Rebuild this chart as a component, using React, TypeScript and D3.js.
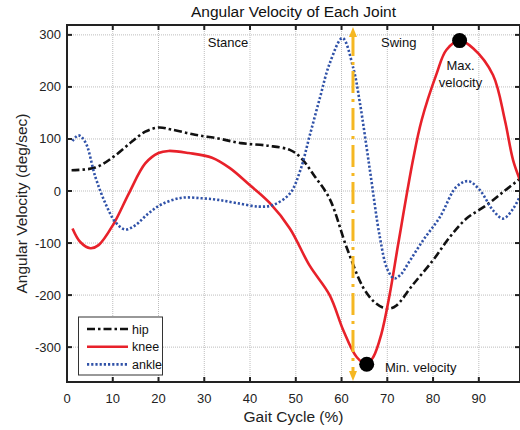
import React from 'react'
import * as d3 from 'd3'

type Pt = [number, number]

// gait cycle (%) vs angular velocity (deg/sec)
const hip: Pt[] = [
  [1, 40], [6.2, 45], [10.2, 66], [14.2, 95], [17.1, 114], [20, 122], [22.9, 118],
  [28, 108], [33, 101], [38, 92], [44, 87], [48.7, 79], [51, 65], [54, 30],
  [57.4, -15], [61.1, -108], [64.7, -185], [67, -212], [69, -224], [70.5, -226],
  [72, -220], [75.6, -180], [80, -133], [83.7, -88], [87.3, -53], [91.7, -27],
  [95.3, -2], [98.6, 21], [99.5, 28],
]
const knee: Pt[] = [
  [1.2, -72], [2.9, -98], [5.1, -110], [6.9, -104], [10.2, -63], [13.5, -5],
  [17.1, 53], [20, 73], [22.2, 77], [26.6, 73], [31.7, 64], [35.6, 44], [40, 11],
  [44.3, -23], [48.7, -72], [53, -143], [57.4, -200], [60.4, -268], [63.3, -319],
  [65.5, -333], [67, -318], [68.7, -275], [70.5, -200], [72.4, -101], [75.6, 59],
  [77.5, 136], [80.8, 226], [82.9, 271], [85.8, 289], [88.8, 274], [93.1, 223],
  [95.7, 136], [97.5, 59], [99.5, 10],
]
const ankle: Pt[] = [
  [1.2, 96], [2.5, 107], [4, 94], [6.2, 27], [8.4, -24], [10.6, -60], [12.7, -74],
  [14.9, -66], [17.8, -43], [20.8, -25], [25.1, -13], [29.5, -14], [33, -17],
  [37, -23], [42, -30], [45, -27], [48.7, -5], [51, 40], [53, 105], [55.3, 180],
  [57.4, 245], [60.2, 294], [62.6, 235], [64, 170], [66.2, 40], [68.4, -90],
  [70, -150], [71.5, -168], [73, -160], [74.5, -140], [77.8, -95], [81.5, -50],
  [85.1, 8], [87.7, 19], [90.2, 2], [93.1, -37], [95.3, -53], [97.5, -34], [99.5, 0],
]

const xTicks = [0, 10, 20, 30, 40, 50, 60, 70, 80, 90]
const yTicks = [-300, -200, -100, 0, 100, 200, 300]
const extremes: Pt[] = [[85.8, 289], [65.5, -333]]
const phaseSplit = [62.5]
const notes = [
  { x: 35.2, y: 277, text: 'Stance', anchor: 'middle' },
  { x: 72.5, y: 277, text: 'Swing', anchor: 'middle' },
  { x: 86, y: 232, text: 'Max.', anchor: 'middle' },
  { x: 86, y: 199, text: 'velocity', anchor: 'middle' },
  { x: 69.5, y: -347, text: 'Min. velocity', anchor: 'start' },
]
const legendItems = ['hip', 'knee', 'ankle']

const W = 520
const H = 430
const font = '"Liberation Sans", Arial, sans-serif'
const ORANGE = '#F5B722'

const styles: Record<string, { stroke: string; dash: string }> = {
  hip: { stroke: '#111111', dash: '8 3 2.5 3' },
  knee: { stroke: '#E8212A', dash: 'none' },
  ankle: { stroke: '#3052A8', dash: '2.2 2' },
}

export default function App() {
  const x = d3.scaleLinear().domain([0, 99]).range([67, 520])
  const y = d3.scaleLinear().domain([-367, 319]).range([382, 25])
  const [x0, x1] = x.range()
  const [y0, y1] = y.range()

  const line = d3
    .line<Pt>()
    .x(d => x(d[0]))
    .y(d => y(d[1]))
    .curve(d3.curveCatmullRom.alpha(0.5))

  const series: [string, Pt[]][] = [
    ['hip', hip],
    ['knee', knee],
    ['ankle', ankle],
  ]

  const tickLen = 5

  return (
    <svg
      width={W}
      height={H}
      style={{ position: 'absolute', left: 0, top: 0, background: '#fff' }}
      fontFamily={font}
    >
      <defs>
        <clipPath id="plot">
          <rect x={x0} y={y1} width={x1 - x0} height={y0 - y1} />
        </clipPath>
      </defs>

      {/* grid */}
      <g stroke="#bdbdbd" strokeWidth={1} strokeDasharray="1 1">
        {xTicks.filter(t => t > 0).map(t => (
          <line key={'gx' + t} x1={x(t)} x2={x(t)} y1={y1} y2={y0} />
        ))}
        {yTicks.map(t => (
          <line key={'gy' + t} x1={x0} x2={x1} y1={y(t)} y2={y(t)} />
        ))}
      </g>

      {/* curves */}
      <g clipPath="url(#plot)" fill="none" strokeWidth={2.6}>
        {series.map(([name, pts]) => (
          <path
            key={name}
            d={line(pts) || ''}
            stroke={styles[name].stroke}
            strokeDasharray={styles[name].dash}
          />
        ))}
      </g>

      {/* stance / swing divider */}
      {phaseSplit.map(p => (
        <g key={'split' + p} stroke={ORANGE} fill={ORANGE}>
          <line
            x1={x(p)}
            x2={x(p)}
            y1={y1 + 9}
            y2={y0 - 9}
            strokeWidth={3}
            strokeDasharray="22 6 3 6"
          />
          <path
            d={`M${x(p)},${y1 + 2} L${x(p) - 4},${y1 + 12} L${x(p) + 4},${y1 + 12} Z`}
            stroke="none"
          />
          <path
            d={`M${x(p)},${y0 - 1} L${x(p) - 4},${y0 - 11} L${x(p) + 4},${y0 - 11} Z`}
            stroke="none"
          />
        </g>
      ))}

      {/* max / min markers */}
      {extremes.map((d, i) => (
        <circle key={'ex' + i} cx={x(d[0])} cy={y(d[1])} r={7.5} fill="#000" />
      ))}

      {/* annotations */}
      {notes.map((n, i) => (
        <text
          key={'n' + i}
          x={x(n.x)}
          y={y(n.y)}
          fontSize={13}
          textAnchor={n.anchor as any}
          fill="#111"
        >
          {n.text}
        </text>
      ))}

      {/* axes box */}
      <rect
        x={x0}
        y={y1}
        width={x1 - x0}
        height={y0 - y1}
        fill="none"
        stroke="#222"
        strokeWidth={2}
      />
      <g stroke="#222" strokeWidth={2}>
        {xTicks.map(t => (
          <g key={'tx' + t}>
            <line x1={x(t)} x2={x(t)} y1={y0} y2={y0 - tickLen} />
            <line x1={x(t)} x2={x(t)} y1={y1} y2={y1 + tickLen} />
          </g>
        ))}
        {yTicks.map(t => (
          <g key={'ty' + t}>
            <line x1={x0} x2={x0 + tickLen} y1={y(t)} y2={y(t)} />
            <line x1={x1} x2={x1 - tickLen} y1={y(t)} y2={y(t)} />
          </g>
        ))}
      </g>

      {/* tick labels */}
      <g fontSize={13} fill="#222">
        {xTicks.map(t => (
          <text key={'lx' + t} x={x(t)} y={y0 + 21} textAnchor="middle">
            {t}
          </text>
        ))}
        {yTicks.map(t => (
          <text key={'ly' + t} x={x0 - 6} y={y(t) + 4.5} textAnchor="end">
            {t}
          </text>
        ))}
      </g>

      {/* titles */}
      <text x={(x0 + x1) / 2} y={17} textAnchor="middle" fontSize={15.5} fill="#111">
        Angular Velocity of Each Joint
      </text>
      <text x={(x0 + x1) / 2} y={422} textAnchor="middle" fontSize={15.5} fill="#222">
        Gait Cycle (%)
      </text>
      <text
        transform={`translate(27,${(y0 + y1) / 2}) rotate(-90)`}
        textAnchor="middle"
        fontSize={15.5}
        fill="#222"
      >
        Angular Velocity (deg/sec)
      </text>

      {/* legend */}
      <g>
        <rect x={78.5} y={317} width={84} height={58} fill="#fff" stroke="#333" strokeWidth={1} />
        {legendItems.map((name, i) => {
          const ly = 329 + i * 17.7
          return (
            <g key={'lg' + name}>
              <line
                x1={87}
                x2={128}
                y1={ly}
                y2={ly}
                stroke={styles[name].stroke}
                strokeWidth={2.6}
                strokeDasharray={styles[name].dash}
              />
              <text x={132} y={ly + 4.5} fontSize={12.5} fill="#111">
                {name}
              </text>
            </g>
          )
        })}
      </g>
    </svg>
  )
}
